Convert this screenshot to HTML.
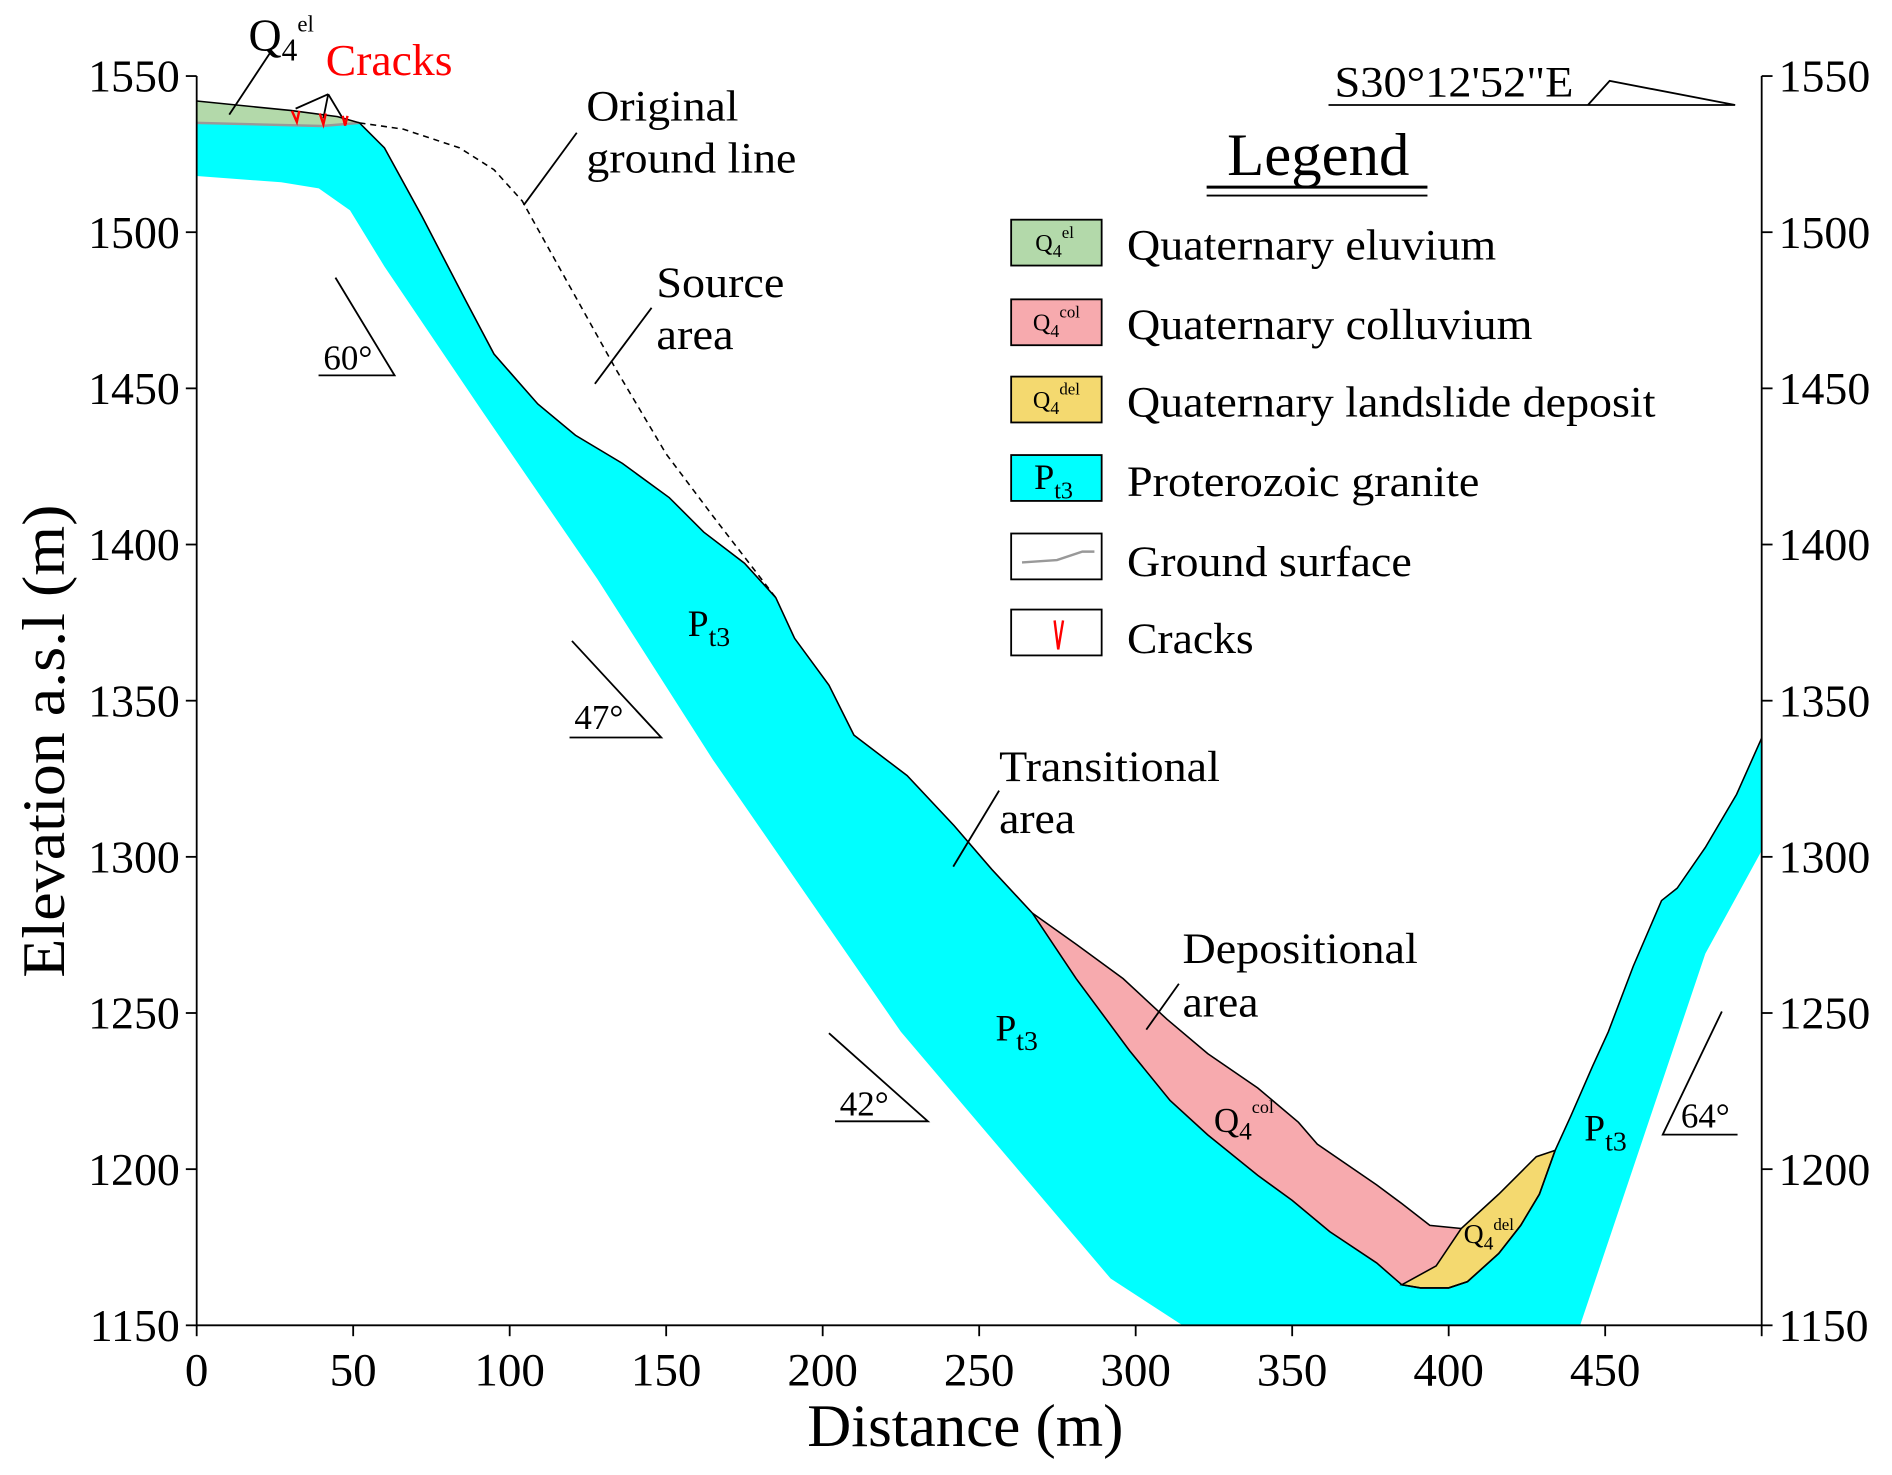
<!DOCTYPE html>
<html><head><meta charset="utf-8"><style>
html,body{margin:0;padding:0;background:#fff;}
svg{display:block;font-family:"Liberation Serif",serif;}
</style></head><body>
<svg id="chart" width="1892" height="1475" viewBox="0 0 1568 1222" preserveAspectRatio="none" xmlns="http://www.w3.org/2000/svg">
<g id="layers"></g>
<g id="axes"></g>
<g id="annot" font-size="36">
  <line x1="190" y1="95" x2="225" y2="42" stroke="#000" stroke-width="1.5"/>
  <text x="206" y="42" font-size="38">Q<tspan font-size="26" dy="8">4</tspan><tspan font-size="19" dy="-24">el</tspan></text>
  <text x="270" y="62" fill="#f00" font-size="37" textLength="105" lengthAdjust="spacingAndGlyphs">Cracks</text>
  <line x1="272" y1="78" x2="245" y2="90" stroke="#000" stroke-width="1.5"/>
  <line x1="272" y1="78" x2="268" y2="98" stroke="#000" stroke-width="1.5"/>
  <line x1="272" y1="78" x2="287" y2="103" stroke="#000" stroke-width="1.5"/>
  <g stroke="#f00" stroke-width="2" fill="none">
    <polyline points="242,92 246,101 248,92"/><polyline points="265,94 268,103 270,94"/><polyline points="284,96 286,104 288,96"/>
  </g>
  <text x="486" y="100" textLength="126" lengthAdjust="spacingAndGlyphs">Original</text>
  <text x="486" y="143" textLength="174" lengthAdjust="spacingAndGlyphs">ground line</text>
  <line x1="434" y1="170" x2="478" y2="110" stroke="#000" stroke-width="1.5"/>
  <text x="544" y="246" textLength="106" lengthAdjust="spacingAndGlyphs">Source</text>
  <text x="544" y="289" textLength="64" lengthAdjust="spacingAndGlyphs">area</text>
  <line x1="493" y1="318" x2="540" y2="255" stroke="#000" stroke-width="1.5"/>
  <text x="828" y="647" textLength="183" lengthAdjust="spacingAndGlyphs">Transitional</text>
  <text x="828" y="690" textLength="63" lengthAdjust="spacingAndGlyphs">area</text>
  <line x1="790" y1="718" x2="828" y2="655" stroke="#000" stroke-width="1.5"/>
  <text x="980" y="798" textLength="195" lengthAdjust="spacingAndGlyphs">Depositional</text>
  <text x="980" y="842" textLength="63" lengthAdjust="spacingAndGlyphs">area</text>
  <line x1="950" y1="853" x2="977" y2="815" stroke="#000" stroke-width="1.5"/>
  <text x="570" y="527" font-size="31">P<tspan font-size="23" dy="8">t3</tspan></text>
  <text x="825" y="862" font-size="31">P<tspan font-size="23" dy="8">t3</tspan></text>
  <text x="1313" y="945" font-size="31">P<tspan font-size="23" dy="8">t3</tspan></text>
  <text x="1006" y="938" font-size="29">Q<tspan font-size="21" dy="6">4</tspan><tspan font-size="15" dy="-22">col</tspan></text>
  <text x="1213" y="1030" font-size="23">Q<tspan font-size="16" dy="5">4</tspan><tspan font-size="14" dy="-16">del</tspan></text>
  <g stroke="#000" stroke-width="1.5" fill="none">
    <polyline points="278,230 327,311 264,311"/>
    <polyline points="474,531 548,611 472,611"/>
    <polyline points="687,856 769,929 692,929"/>
    <polyline points="1427,838 1378,940 1440,940"/>
  </g>
  <text x="268" y="306" font-size="29">60°</text>
  <text x="476" y="604" font-size="29">47°</text>
  <text x="696" y="924" font-size="29">42°</text>
  <text x="1393" y="934" font-size="29">64°</text>
  <text x="1106" y="80" font-size="36" textLength="198" lengthAdjust="spacingAndGlyphs">S30°12'52"E</text>
  <polyline points="1101,87 1438,87 1334,67 1316,87" fill="none" stroke="#000" stroke-width="1.5"/>
</g>
<g id="legend">
  <text x="1017" y="145" font-size="50" textLength="151" lengthAdjust="spacingAndGlyphs">Legend</text>
  <line x1="1000" y1="155" x2="1183" y2="155" stroke="#000" stroke-width="2.5"/>
  <line x1="1000" y1="162" x2="1183" y2="162" stroke="#000" stroke-width="1.5"/>
  <g><rect x="838" y="182" width="75" height="38" fill="#b3d9aa" stroke="#000" stroke-width="1.5"/><text x="858" y="208" font-size="20">Q<tspan font-size="15" dy="5">4</tspan><tspan font-size="14" dy="-16">el</tspan></text><text x="934" y="215" font-size="36" textLength="306" lengthAdjust="spacingAndGlyphs">Quaternary eluvium</text></g>
  <g><rect x="838" y="248" width="75" height="38" fill="#f7aaae" stroke="#000" stroke-width="1.5"/><text x="856" y="274" font-size="20">Q<tspan font-size="15" dy="5">4</tspan><tspan font-size="14" dy="-16">col</tspan></text><text x="934" y="281" font-size="36" textLength="336" lengthAdjust="spacingAndGlyphs">Quaternary colluvium</text></g>
  <g><rect x="838" y="312" width="75" height="38" fill="#f4d96f" stroke="#000" stroke-width="1.5"/><text x="856" y="338" font-size="20">Q<tspan font-size="15" dy="5">4</tspan><tspan font-size="14" dy="-16">del</tspan></text><text x="934" y="345" font-size="36" textLength="438" lengthAdjust="spacingAndGlyphs">Quaternary landslide deposit</text></g>
  <g><rect x="838" y="377" width="75" height="38" fill="#00ffff" stroke="#000" stroke-width="1.5"/><text x="857" y="405" font-size="30">P<tspan font-size="20" dy="8">t3</tspan></text><text x="934" y="411" font-size="36" textLength="292" lengthAdjust="spacingAndGlyphs">Proterozoic granite</text></g>
  <g><rect x="838" y="442" width="75" height="38" fill="#fff" stroke="#000" stroke-width="1.5"/><polyline points="847,466 876,464 897,457 907,457" fill="none" stroke="#999" stroke-width="2"/><text x="934" y="477" font-size="36" textLength="236" lengthAdjust="spacingAndGlyphs">Ground surface</text></g>
  <g><rect x="838" y="505" width="75" height="38" fill="#fff" stroke="#000" stroke-width="1.5"/><polyline points="874,514 877,538 881,514" fill="none" stroke="#f00" stroke-width="2"/><text x="934" y="541" font-size="36" textLength="105" lengthAdjust="spacingAndGlyphs">Cracks</text></g>
</g>
<script>
// data (distance m, elevation m)
const groundDist = [52,60,72,86,95,109,121,136,151,162,175,185,191,202,210,227,242,254,267,281,298,311,323,339,350,362,377,385];
const groundElev = [1535,1527,1505,1478,1461,1445,1435,1426,1415,1404,1394,1383,1370,1355,1339,1326,1310,1296,1282,1261,1238,1222,1211,1198,1190,1180,1170,1163];
const valleyDist = [391,400,406,416,423,429,434,439,446,451,459,468,473,482,492,500];
const valleyElev = [1162,1162,1164,1173,1182,1192,1206,1217,1233,1244,1265,1286,1290,1303,1320,1338];
const graniteBaseDist = [500,482,442,315,292,225,165,128,91,60,49,39,27,0];
const graniteBaseElev = [1302,1269,1150,1150,1165,1244,1331,1389,1443,1489,1507,1514,1516,1518];
const eluviumTopDist = [0,30,45,52];
const eluviumTopElev = [1542,1539,1537,1535];
const eluviumBaseDist = [0,40,52];
const eluviumBaseElev = [1535,1534,1535];
const colluviumTopDist = [267,281,296,310,323,339,352,358,377,385,394,404];
const colluviumTopElev = [1282,1272,1261,1248,1237,1226,1215,1208,1195,1189,1182,1181];
const depositTopDist = [385,396,404,416,428,434];
const depositTopElev = [1163,1169,1181,1192,1204,1206];
const originalDist = [52,66,84,95,104,119,134,150,165,185];
const originalElev = [1535,1533,1527,1520,1510,1483,1456,1429,1409,1383];
const xTicks = [0,50,100,150,200,250,300,350,400,450];
const yTicks = [1150,1200,1250,1300,1350,1400,1450,1500,1550];

const X0=163, X1=1460, XMIN=0, XMAX=500, Y0=1098, Y1=63, YMIN=1150, YMAX=1550;
const sx = d => X0 + (d-XMIN)/(XMAX-XMIN)*(X1-X0);
const sy = e => Y0 - (e-YMIN)/(YMAX-YMIN)*(Y0-Y1);
const NS='http://www.w3.org/2000/svg';
const pts = (ds,es) => ds.map((d,i)=>sx(d).toFixed(1)+','+sy(es[i]).toFixed(1));
const layers=document.getElementById('layers');
function poly(tag, p, attrs){const el=document.createElementNS(NS,tag);el.setAttribute('points',p.join(' '));for(const k in attrs)el.setAttribute(k,attrs[k]);layers.appendChild(el);return el;}

const granitePts = pts(eluviumBaseDist.slice(0,-1),eluviumBaseElev.slice(0,-1)).concat(pts(groundDist,groundElev),pts(valleyDist,valleyElev),pts(graniteBaseDist,graniteBaseElev));
let g=poly('polygon',granitePts,{fill:'#00ffff',stroke:'none'});


const i0=groundDist.indexOf(267);
const collPts = pts(colluviumTopDist,colluviumTopElev).concat(pts(depositTopDist.slice(1,3).reverse(),depositTopElev.slice(1,3).reverse()), pts(groundDist.slice(i0).reverse(),groundElev.slice(i0).reverse()));
let c=poly('polygon',collPts,{fill:'#f7aaae',stroke:'none'});


const vi=valleyDist.indexOf(434);
const depPts = pts(depositTopDist,depositTopElev).concat(pts(valleyDist.slice(0,vi+1).reverse(),valleyElev.slice(0,vi+1).reverse()));
let dp=poly('polygon',depPts,{fill:'#f4d96f',stroke:'#000','stroke-width':1.3});


const elPts = pts(eluviumTopDist,eluviumTopElev).concat(pts(eluviumBaseDist.slice().reverse(),eluviumBaseElev.slice().reverse()));
let el=poly('polygon',elPts,{fill:'#b3d9aa',stroke:'none'});


let eb=poly('polyline',pts(eluviumBaseDist,eluviumBaseElev),{fill:'none',stroke:'#999','stroke-width':2});


let et=poly('polyline',pts(eluviumTopDist,eluviumTopElev),{fill:'none',stroke:'#000','stroke-width':1.3});


let gl=poly('polyline',pts(groundDist,groundElev).concat(pts(valleyDist,valleyElev)),{fill:'none',stroke:'#000','stroke-width':1.3});


let ct=poly('polyline',pts(colluviumTopDist,colluviumTopElev),{fill:'none',stroke:'#000','stroke-width':1.3});


let ol=poly('polyline',pts(originalDist,originalElev),{fill:'none',stroke:'#000','stroke-width':1.3,'stroke-dasharray':'5,4'});



const ax=document.getElementById('axes');
function line(x1,y1,x2,y2){const l=document.createElementNS(NS,'line');l.setAttribute('x1',x1);l.setAttribute('y1',y1);l.setAttribute('x2',x2);l.setAttribute('y2',y2);l.setAttribute('stroke','#000');l.setAttribute('stroke-width',1.5);ax.appendChild(l);return l;}
function text(x,y,s,size,anchor){const t=document.createElementNS(NS,'text');t.setAttribute('x',x);t.setAttribute('y',y);t.setAttribute('font-size',size);t.setAttribute('text-anchor',anchor);t.textContent=s;ax.appendChild(t);return t;}
let a1=line(X0,Y1,X0,Y0);  
let a2=line(X0,Y0,X1,Y0);  
let a3=line(X1,Y1,X1,Y0);  
xTicks.forEach(v=>{line(sx(v),Y0,sx(v),Y0+9);
 const t=text(sx(v),Y0+50,String(v),39,'middle');
 
 });
line(X1,Y0,X1,Y0+9);
yTicks.forEach(v=>{line(X0-9,sy(v),X0,sy(v));line(X1,sy(v),X1+9,sy(v));
 const t=text(X0-14,sy(v)+13,String(v),38,'end');
 
 
 const t2=text(X1+14,sy(v)+13,String(v),38,'start');
 
 });
const xt=text(800,1198,'Distance (m)',50,'middle');
xt.setAttribute('textLength','262');
xt.setAttribute('lengthAdjust','spacingAndGlyphs');


const yt=text(0,0,'Elevation a.s.l (m)',50,'middle');
yt.setAttribute('textLength','392');
yt.setAttribute('lengthAdjust','spacingAndGlyphs');
yt.setAttribute('transform','translate(53,614) rotate(-90)');


</script>
</svg>
</body></html>
